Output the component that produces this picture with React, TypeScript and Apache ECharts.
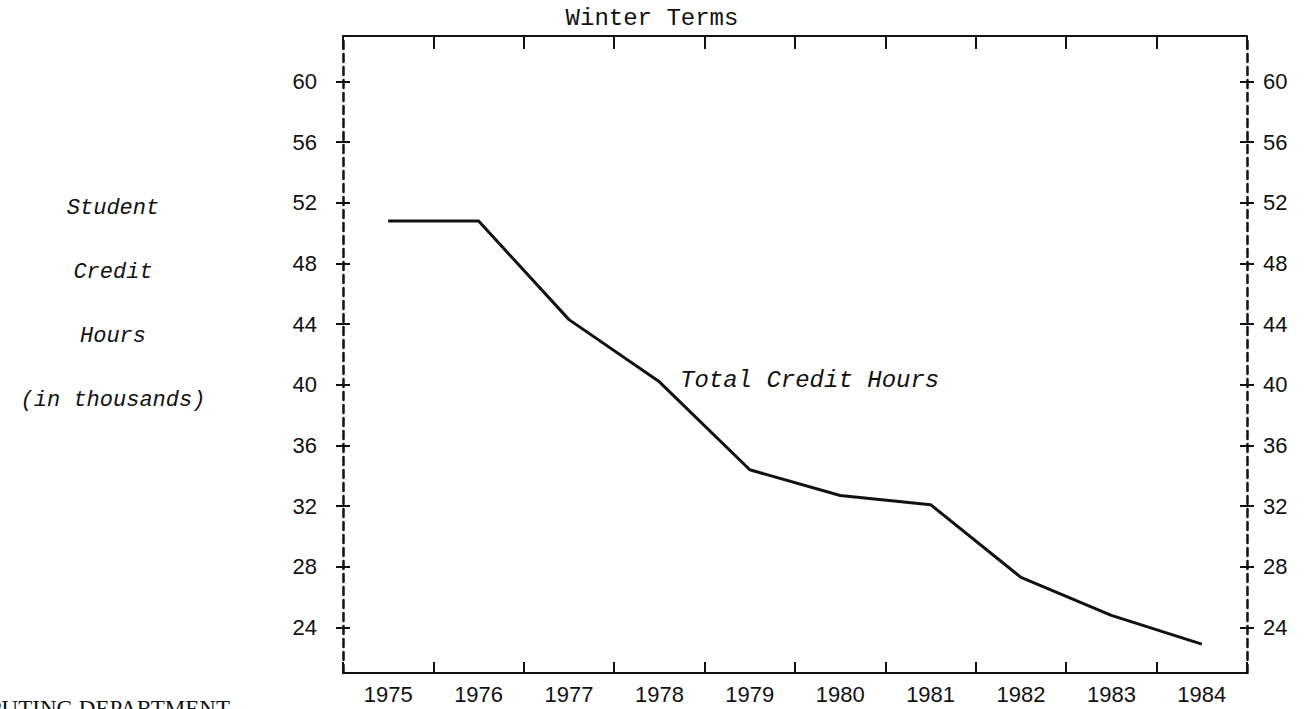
import React, { useEffect, useRef } from "react";
import * as echarts from "echarts";

const years = ["1975", "1976", "1977", "1978", "1979", "1980", "1981", "1982", "1983", "1984"];
const creditHours = [50.8, 50.8, 44.3, 40.2, 34.4, 32.7, 32.1, 27.3, 24.8, 22.9];
const yTicks = [24, 28, 32, 36, 40, 44, 48, 52, 56, 60];
const leftTitle = ["Student", "Credit", "Hours", "(in thousands)"];
const topTitle = "Winter Terms";
const seriesLabel = "Total Credit Hours";
const footer = "COMPUTING DEPARTMENT";

const INK = "#111";
const MONO = "'Liberation Mono', 'DejaVu Sans Mono', monospace";
const SANS = "'Liberation Sans', Arial, sans-serif";

export default function App() {
  const ref = useRef<HTMLDivElement>(null);
  useEffect(() => {
    if (!ref.current) return;
    const chart = echarts.init(ref.current, null, { renderer: "svg" });
    const yBase = (position: string, inside: boolean, labels: boolean, margin: number) => ({
      type: "value",
      position,
      min: 21,
      max: 63,
      axisLine: labels
        ? { show: true, lineStyle: { color: INK, width: 2.5, type: [8, 5] } }
        : { show: false },
      axisTick: {
        show: true,
        inside,
        length: 7,
        lineStyle: { color: INK, width: 2 },
        customValues: yTicks,
      },
      axisLabel: labels
        ? {
            show: true,
            customValues: yTicks,
            margin,
            fontSize: 22,
            fontFamily: SANS,
            color: INK,
          }
        : { show: false },
      splitLine: { show: false },
    });
    const option: any = {
      animation: false,
      backgroundColor: "#fff",
      grid: { left: 343, right: 62, top: 36, bottom: 36, containLabel: false },
      xAxis: [
        {
          type: "category",
          data: years,
          position: "bottom",
          boundaryGap: true,
          axisLine: { show: true, lineStyle: { color: INK, width: 2 } },
          axisTick: { show: true, inside: true, length: 11, lineStyle: { color: INK, width: 2 } },
          axisLabel: { fontSize: 22, fontFamily: SANS, color: INK, margin: 10 },
          splitLine: { show: false },
        },
        {
          type: "category",
          data: years,
          position: "top",
          boundaryGap: true,
          axisLine: { show: true, lineStyle: { color: INK, width: 2 } },
          axisTick: { show: true, inside: true, length: 13, lineStyle: { color: INK, width: 2 } },
          axisLabel: { show: false },
          splitLine: { show: false },
        },
      ],
      yAxis: [
        yBase("left", false, true, 26),
        yBase("left", true, false, 0),
        yBase("right", false, true, 16),
        yBase("right", true, false, 0),
      ],
      series: [
        {
          type: "line",
          name: seriesLabel,
          data: creditHours,
          xAxisIndex: 0,
          yAxisIndex: 0,
          symbol: "none",
          lineStyle: { color: INK, width: 3 },
          clip: false,
        },
      ],
      graphic: [
        {
          type: "text",
          x: 652,
          y: 18,
          style: {
            text: topTitle,
            font: `24px ${MONO}`,
            fill: INK,
            textAlign: "center",
            textVerticalAlign: "middle",
          },
        },
        {
          type: "text",
          x: 680,
          y: 380,
          style: {
            text: seriesLabel,
            font: `italic 24px ${MONO}`,
            fill: INK,
            textAlign: "left",
            textVerticalAlign: "middle",
          },
        },
        ...leftTitle.map((t, i) => ({
          type: "text",
          x: 113,
          y: 208 + i * 64,
          style: {
            text: t,
            font: `italic 22px ${MONO}`,
            fill: INK,
            textAlign: "center",
            textVerticalAlign: "middle",
          },
        })),
        {
          type: "text",
          x: 230,
          y: 697,
          style: {
            text: footer,
            font: `23px 'Liberation Serif', 'DejaVu Serif', serif`,
            fill: INK,
            textAlign: "right",
            textVerticalAlign: "top",
          },
        },
      ],
    };
    chart.setOption(option);
    return () => chart.dispose();
  }, []);
  return (
    <div
      ref={ref}
      style={{ position: "fixed", left: 0, top: 0, width: 1309, height: 709, background: "#fff" }}
    />
  );
}
